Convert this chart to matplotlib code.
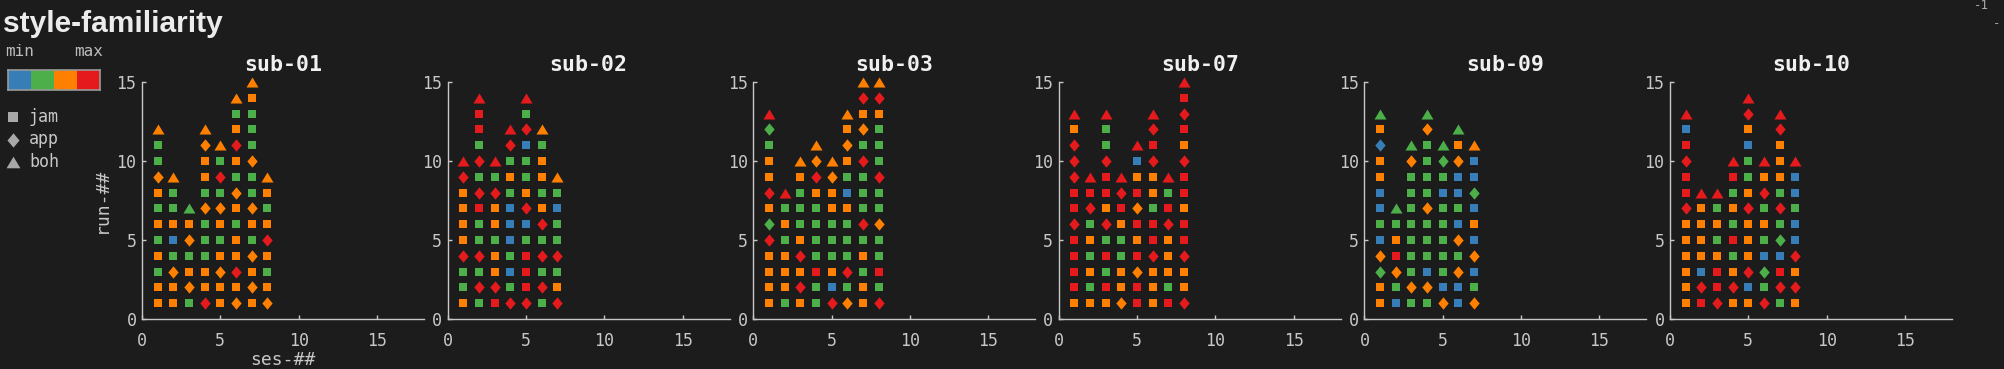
# -*- coding: utf-8 -*-
"""style-familiarity : une grille ses x run par sujet, couleur = niveau, marqueur = type."""

import matplotlib
matplotlib.use("Agg")
import matplotlib.pyplot as plt
from matplotlib.path import Path
from matplotlib.colors import ListedColormap

## Donnees : une chaine par session, run 1 -> run N
# couleur : B < G < O < R (min -> max) ; forme : s = jam, d = app, t = boh
subjects = ["sub-01", "sub-02", "sub-03", "sub-07", "sub-09", "sub-10"]

sub01 = ["Os Os Gs Os Gs Os Gs Os Od Gs Gs Ot",
         "Os Os Od Gs Bs Os Gs Gs Ot",
         "Gs Od Os Gs Od Os Gt",
         "Rd Os Os Gs Gs Gs Od Gs Os Os Od Ot",
         "Os Os Od Os Gs Os Od Gs Rd Gs Ot",
         "Od Os Rd Os Os Gs Os Od Gs Os Rd Os Gs Ot",
         "Os Od Os Od Gs Os Od Gs Gs Od Gs Gs Gs Os Ot",
         "Od Os Gs Os Rd Os Gs Os Ot"]
sub02 = ["Os Gs Gs Rd Os Os Os Os Rd Rt",
         "Gs Rd Gs Rd Gs Gs Rs Rd Gs Rd Gs Rs Rs Rt",
         "Rs Rd Os Os Gs Os Os Rd Gs Rt",
         "Rd Gs Bs Gs Bs Bs Bs Gs Os Gs Rd Rt",
         "Rd Rs Rs Rs Gs Bs Rd Os Gs Gs Bs Rd Gs Rt",
         "Gs Rd Gs Rd Gs Rd Os Gs Os Os Gs Ot",
         "Rd Os Gs Rd Gs Gs Bs Gs Ot"]
sub03 = ["Os Os Os Os Rd Gd Os Rd Os Os Gs Gd Rt",
         "Gs Os Os Os Gs Os Gs Rt",
         "Os Rd Os Rd Os Gs Gs Gs Os Ot",
         "Gs Gs Rs Gs Gs Gs Gs Os Rd Od Ot",
         "Rd Bs Os Gs Gs Gs Os Os Od Ot",
         "Od Gs Rd Gs Gs Gs Os Bs Gs Os Od Os Ot",
         "Os Os Gs Os Gs Rd Gs Gs Gs Rd Gs Od Os Rd Ot",
         "Rd Gs Rs Gs Gs Od Gs Gs Rd Gs Gs Gs Os Rd Ot"]
sub07 = ["Os Rs Rs Rs Rs Rd Rs Rs Rd Rd Rd Os Rt",
         "Os Gs Os Gs Os Gs Rd Rs Rt",
         "Os Rs Gs Rs Gs Rd Os Rs Rs Rd Gs Gs Rt",
         "Od Os Os Gs Gs Os Rs Rd Rt",
         "Rs Rs Od Rs Os Rs Od Rs Os Bs Rt",
         "Os Os Os Rd Rs Rs Gs Os Os Rd Rs Rd Rt",
         "Rs Gs Os Os Os Rd Rs Gs Rt",
         "Rd Os Os Rd Rs Rs Os Rs Rs Rd Os Rs Rd Rs Rt"]
sub09 = ["Os Os Gd Od Bs Gs Bs Bs Os Os Bd Os Gt",
         "Bs Gs Od Rs Os Gs Gt",
         "Gs Od Gs Gs Gs Gs Gs Gs Gs Od Gt",
         "Gs Od Bs Gs Gs Gs Od Gs Gs Gs Gs Od Gt",
         "Od Bs Gs Gs Gs Gs Gs Bs Gs Gd Gt",
         "Bs Bs Od Gs Od Bs Gs Bs Bs Od Os Gt",
         "Od Gs Bs Od Bs Os Bs Gd Bs Bs Ot"]
sub10 = ["Os Os Os Os Os Os Rd Rs Rs Rd Rs Bs Rt",
         "Rs Rd Bs Os Os Os Os Rt",
         "Rd Rs Rs Os Gs Os Gs Rt",
         "Os Rd Os Gs Rs Gs Os Gs Rs Rt",
         "Os Bs Rd Os Os Os Rd Os Gs Gs Bs Os Rd Rt",
         "Rd Gs Gd Bs Gs Os Gs Rd Os Rt",
         "Gs Rd Rs Bs Gd Gs Rd Gs Os Os Os Rd Rt",
         "Os Rd Os Rd Bs Bs Gs Bs Bs Rt"]
sessions = [sub01, sub02, sub03, sub07, sub09, sub10]

levels = ["B", "G", "O", "R"]
kinds = ["s", "d", "t"]
kind_names = ["jam", "app", "boh"]
ticks = [0, 5, 10, 15]

## Styles
BG = "#1c1c1c"
FG = "#c8c8c8"
COLORS = {"B": "#377eb8", "G": "#4daf4a", "O": "#ff7f00", "R": "#e41a1c"}
MONO = "DejaVu Sans Mono"

diamond = Path([(0, 1), (0.84, 0), (0, -1), (-0.84, 0), (0, 1)], closed=True)
triangle = Path([(-1, -0.833), (1, -0.833), (0, 0.833), (-1, -0.833)], closed=True)
MARKERS = {"s": ("s", 6.3), "d": (diamond, 8.9), "t": (triangle, 8.7)}

plt.rcParams["font.family"] = MONO

W, H = 2004, 369
fig = plt.figure(figsize=(W / 100, H / 100), dpi=100, facecolor=BG)

## Grilles par sujet
for i, (name, cols) in enumerate(zip(subjects, sessions)):
    x0 = 142 + i * 305.6
    ax = fig.add_axes([x0 / W, 1 - 319 / H, 282 / W, 237 / H], facecolor=BG)
    for lev in levels:
        for k in kinds:
            xs, ys = [], []
            for s, col in enumerate(cols, start=1):
                for r, tok in enumerate(col.split(), start=1):
                    if tok == lev + k:
                        xs.append(s)
                        ys.append(r)
            if xs:
                m, ms = MARKERS[k]
                ax.plot(xs, ys, ls="none", marker=m, ms=ms, color=COLORS[lev],
                        mew=0, clip_on=False)
    ax.set_xlim(0, 18)
    ax.set_ylim(0, 15)
    ax.set_xticks(ticks)
    ax.set_yticks(ticks)
    for sp in ["top", "right"]:
        ax.spines[sp].set_visible(False)
    for sp in ["left", "bottom"]:
        ax.spines[sp].set_color(FG)
        ax.spines[sp].set_linewidth(1)
    ax.tick_params(direction="in", length=3, width=1, color=FG, labelcolor=FG,
                   labelsize=12)
    ax.tick_params(axis="x", pad=9)
    ax.tick_params(axis="y", pad=4)
    ax.set_title(name, color="#f0f0f0", fontsize=15.5, fontweight="bold", pad=8)
    if i == 0:
        ax.set_xlabel("ses-##", color=FG, fontsize=13, labelpad=1)
        ax.set_ylabel("run-##", color=FG, fontsize=13, labelpad=4)

## Titre + legende
fig.text(3 / W, 1 - 32 / H, "style-familiarity", color="#ececec", fontsize=21.5,
         fontweight="bold", family="Liberation Sans", va="baseline")
fig.text(5 / W, 1 - 52 / H, "min", color="#bdbdbd", fontsize=11.5, va="center")
fig.text(74 / W, 1 - 52 / H, "max", color="#bdbdbd", fontsize=11.5, va="center")

cax = fig.add_axes([8 / W, 1 - 90 / H, 92 / W, 20 / H])
cax.imshow([[0, 1, 2, 3]], cmap=ListedColormap([COLORS[l] for l in levels]),
           aspect="auto", interpolation="nearest")
cax.set_xticks([])
cax.set_yticks([])
for sp in cax.spines.values():
    sp.set_color("#9a9a9a")
    sp.set_linewidth(1.2)

lax = fig.add_axes([0, 0, 1, 1], facecolor="none")
lax.set_xlim(0, W)
lax.set_ylim(H, 0)
lax.axis("off")
leg_sizes = {"s": 6.8, "d": 10.3, "t": 10}
for j, (k, lab) in enumerate(zip(kinds, kind_names)):
    yy = 117 + j * 22.5
    m = MARKERS[k][0]
    lax.plot([13], [yy], ls="none", marker=m, ms=leg_sizes[k], color="#a8a8a8", mew=0)
    lax.text(29, yy, lab, color="#c8c8c8", fontsize=12, va="center")

# bout de texte coupe en haut a droite
fig.text(1974 / W, 1 - 9 / H, "-1", color="#a8a8a8", fontsize=9, va="baseline")
fig.text(1993 / W, 1 - 27 / H, "-", color="#a8a8a8", fontsize=9, va="baseline")

fig.savefig("out.png", dpi=100, facecolor=BG)
